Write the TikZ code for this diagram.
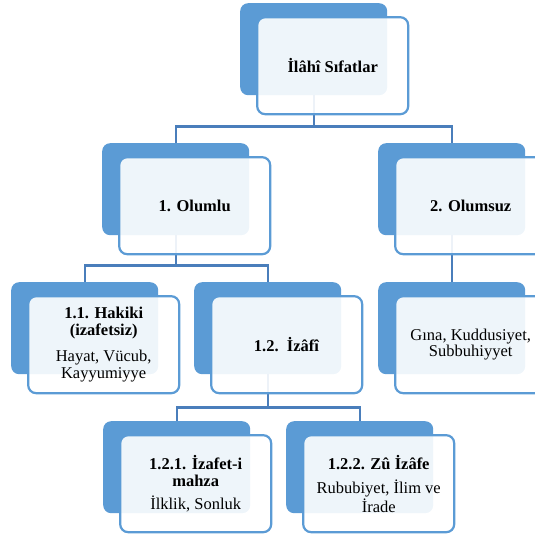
\documentclass[tikz,border=0pt]{standalone}
\usepackage{fontspec}
\setmainfont{Liberation Serif}
\usetikzlibrary{calc}
\definecolor{boxblue}{HTML}{5B9BD5}
\definecolor{lineblue}{HTML}{4A7EBB}
\begin{document}
\begin{tikzpicture}[x=1pt,y=-1pt,
  backbox/.style={draw=none,fill=boxblue,rounded corners=8pt,minimum width=147pt,minimum height=92pt,inner sep=0pt,anchor=north west},
  frontbox/.style={draw=boxblue,line width=2.2pt,fill=white,fill opacity=0.9,text opacity=1,rounded corners=8pt,minimum width=151pt,minimum height=97pt,inner sep=0pt,anchor=center,align=center,font=\fontsize{16.5}{16.5}\selectfont},
  conn/.style={draw=lineblue,line width=2.2pt}]
\useasboundingbox (0,0) rectangle (535,535);
\clip (0,0) rectangle (535,535);
% back boxes
\node[backbox] (b0) at (240,3) {};
\node[backbox] (b1) at (102,143) {};
\node[backbox] (b2) at (378,143) {};
\node[backbox] (b11) at (11,282) {};
\node[backbox] (b12) at (194,282) {};
\node[backbox] (b21) at (378,282) {};
\node[backbox] (b121) at (103,421) {};
\node[backbox] (b122) at (286,421) {};
% connectors
\draw[conn] (b0.south) -- ++(0,31) -| (b1.north);
\draw[conn] (b0.south) -- ++(0,31) -| (b2.north);
\draw[conn] (b1.south) -- ++(0,30) -| (b11.north);
\draw[conn] (b1.south) -- ++(0,30) -| (b12.north);
\draw[conn] (b2.south) -- (b21.north);
\draw[conn] (b12.south) -- ++(0,33) -| (b121.north);
\draw[conn] (b12.south) -- ++(0,33) -| (b122.north);
% front boxes
\node[frontbox] (f0) at ($(b0.center)+(19,16.5)$) {\textbf{İlâhî Sıfatlar}};
\node[frontbox] (f1) at ($(b1.center)+(19,16.5)$) {\textbf{1. Olumlu}};
\node[frontbox] (f2) at ($(b2.center)+(19,16.5)$) {\textbf{2. Olumsuz}};
\node[frontbox] (f11) at ($(b11.center)+(19,16.5)$) {\textbf{1.1. Hakiki}\\\textbf{(izafetsiz)}\\[10pt]Hayat, Vücub,\\Kayyumiyye};
\node[frontbox] (f12) at ($(b12.center)+(19,16.5)$) {\textbf{1.2.\ \ İzâfî}};
\node[frontbox] (f21) at ($(b21.center)+(19,16.5)$) {Gına, Kuddusiyet,\\Subbuhiyyet};
\node[frontbox] (f121) at ($(b121.center)+(19,16.5)$) {\textbf{1.2.1. İzafet-i}\\\textbf{mahza}\\[7pt]İlklik, Sonluk};
\node[frontbox] (f122) at ($(b122.center)+(19,16.5)$) {\textbf{1.2.2. Zû İzâfe}\\[8pt]Rububiyet, İlim ve\\İrade};
\end{tikzpicture}
\end{document}
